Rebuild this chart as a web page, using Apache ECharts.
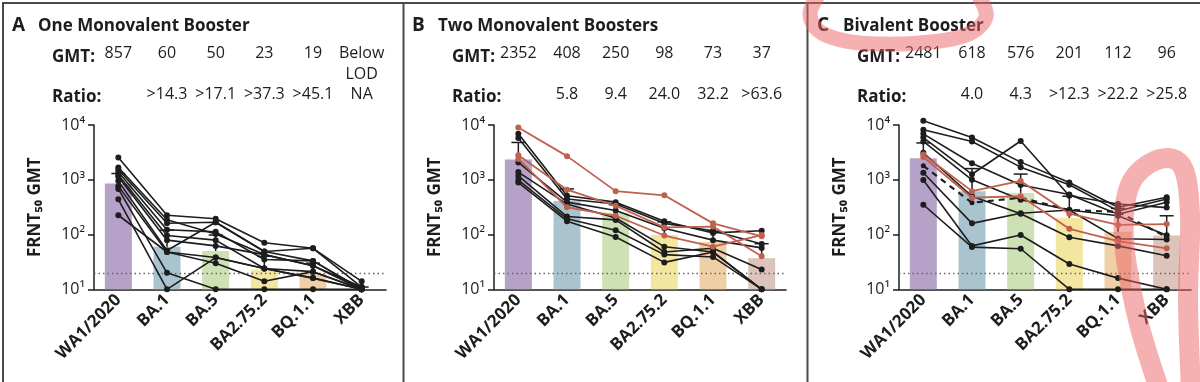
<!DOCTYPE html>
<html><head><meta charset="utf-8">
<script src="https://cdn.jsdelivr.net/npm/echarts/dist/echarts.min.js"></script>
<style>html,body{margin:0;padding:0;background:#fff;overflow:hidden}#c{width:1200px;height:382px}</style>
</head><body><div id="c"></div><script>
// ---------- data ----------
const categories = ['WA1/2020', 'BA.1', 'BA.5', 'BA2.75.2', 'BQ.1.1', 'XBB'];
const yTickLabels = {1: '10\u00b9', 2: '10\u00b2', 3: '10\u00b3', 4: '10\u2074'};
const lod = 20;

const gmtA = [857, 60, 50, 23, 19, 10];
const gmtTextA = ['857', '60', '50', '23', '19', 'Below\nLOD'];
const ratioA = ['', '>14.3', '>17.1', '>37.3', '>45.1', 'NA'];
const upperA = [1300, 120, 98, 40, 30, 11];
const blackA = [
  [2540, 225, 194, 71, 56, 14],
  [1670, 186, 102, 43, 27, 10],
  [1545, 161, 168, 49, 56, 11],
  [1380, 122, 112, 35, 33, 10],
  [1220, 96, 79, 24, 21, 10],
  [1130, 79, 62, 43, 27, 11],
  [945, 51, 168, 49, 33, 10],
  [765, 48, 38, 24, 16, 10],
  [680, 20, 10, 10, 10, 10],
  [440, 10, 38, 24, 16, 10],
  [225, 48, 30, 14, 21, 10]
];

const gmtB = [2352, 408, 250, 98, 73, 37];
const gmtTextB = ['2352', '408', '250', '98', '73', '37'];
const ratioB = ['', '5.8', '9.4', '24.0', '32.2', '>63.6'];
const upperB = [4800, 680, 350, 170, 115, 68];
const blackB = [
  [6900, 510, 390, 175, 107, 117],
  [5800, 445, 360, 160, 117, 67],
  [2070, 390, 275, 130, 79, 57],
  [1380, 360, 200, 60, 48, 10],
  [1180, 213, 185, 48, 56, 23],
  [990, 194, 120, 43, 39, 10],
  [890, 175, 90, 31, 48, 10]
];
const redB = [
  [9000, 2700, 620, 520, 160, 93],
  [2800, 660, 335, 135, 140, 40],
  [2400, 315, 220, 96, 60, 98]
];

const gmtC = [2481, 618, 576, 201, 112, 96];
const gmtTextC = ['2481', '618', '576', '201', '112', '96'];
const ratioC = ['', '4.0', '4.3', '>12.3', '>22.2', '>25.8'];
const upperC = [4700, 1600, 1270, 500, 300, 220];
const blackC = [
  [12000, 5900, 2100, 890, 315, 480],
  [8200, 5000, 1700, 810, 270, 445],
  [6900, 2000, 800, 540, 235, 390],
  [5900, 1260, 5100, 510, 360, 310],
  [5000, 1000, 430, 280, 220, 97],
  [3100, 500, 240, 89, 62, 41],
  [1340, 160, 245, 280, 84, 81],
  [990, 62, 98, 29, 16, 10],
  [350, 59, 55, 10, 10, 10]
];
const dashedC = [[1800, 380, 470, 280, 260, 90]];
const redC = [
  [2900, 620, 950, 240, 150, 155],
  [2600, 470, 500, 127, 76, 56]
];

const panelLetters = ['A', 'B', 'C'];
const panelTitles = ['One Monovalent Booster', 'Two Monovalent Boosters', 'Bivalent Booster'];

// ---------- styling ----------
const FONT = '"Open Sans", Lato, "DejaVu Sans", sans-serif';
const INK = '#1d1d1d';
const RED = '#c0604e';
const barColors = ['#b6a2c8', '#a9c4cf', '#cee1b4', '#f3e6a1', '#efcfa6', '#dcc4ba'];
const offsets = [0, 400, 805];

const panels = [
  {gmt: gmtA, gmtText: gmtTextA, ratio: ratioA, upper: upperA, black: blackA, red: [], dashed: []},
  {gmt: gmtB, gmtText: gmtTextB, ratio: ratioB, upper: upperB, black: blackB, red: redB, dashed: []},
  {gmt: gmtC, gmtText: gmtTextC, ratio: ratioC, upper: upperC, black: blackC, red: redC, dashed: dashedC}
];

const grid = [], xAxis = [], yAxis = [], series = [], graphic = [];

panels.forEach((p, k) => {
  const off = offsets[k];
  grid.push({left: off + 94, top: 125, width: 292, height: 164.3, outerBoundsMode: 'none', containLabel: false});
  xAxis.push({
    type: 'category', gridIndex: k, data: categories, boundaryGap: true,
    axisLine: {show: true, onZero: false, lineStyle: {color: INK, width: 1.5}},
    axisTick: {show: false}, splitLine: {show: false},
    axisLabel: {rotate: 45, interval: 0, margin: 8, fontSize: 17, fontWeight: 'bold', color: INK, fontFamily: FONT}
  });
  xAxis.push({
    type: 'category', gridIndex: k, data: categories, position: 'top', offset: 82,
    axisLine: {show: false}, axisTick: {show: false}, splitLine: {show: false},
    axisLabel: {interval: 0, margin: 0, verticalAlign: 'top', lineHeight: 21, fontSize: 16, color: INK, fontFamily: FONT,
      formatter: (v, i) => p.gmtText[i]}
  });
  xAxis.push({
    type: 'category', gridIndex: k, data: categories, position: 'top', offset: 41,
    axisLine: {show: false}, axisTick: {show: false}, splitLine: {show: false},
    axisLabel: {interval: 0, margin: 0, verticalAlign: 'top', lineHeight: 21, fontSize: 16, color: INK, fontFamily: FONT,
      formatter: (v, i) => p.ratio[i]}
  });
  yAxis.push({
    type: 'log', logBase: 10, min: 10, max: 10000, gridIndex: k,
    axisLine: {show: true, lineStyle: {color: INK, width: 1.5}},
    axisTick: {show: true, length: 6, lineStyle: {color: INK, width: 1.5}},
    splitLine: {show: false}, minorTick: {show: false},
    axisLabel: {margin: 9, fontSize: 16, color: INK, fontFamily: FONT,
      formatter: v => yTickLabels[Math.round(Math.log10(v))] || ''},
    name: 'FRNT\u2085\u2080 GMT', nameLocation: 'middle', nameGap: 50, nameRotate: 90,
    nameTextStyle: {fontSize: 17, fontWeight: 'bold', color: INK, fontFamily: FONT}
  });
  const xi = k * 3;
  series.push({
    type: 'bar', xAxisIndex: xi, yAxisIndex: k, barWidth: 27, z: 1, silent: true,
    data: p.gmt.map((v, i) => ({value: v, itemStyle: {color: barColors[i]}})),
    markLine: {silent: true, symbol: 'none', label: {show: false},
      lineStyle: {type: [1.5, 3], color: '#666', width: 1.3}, data: [{yAxis: lod}]}
  });
  series.push({
    type: 'custom', xAxisIndex: xi, yAxisIndex: k, z: 2, silent: true,
    data: p.gmt.map((v, i) => [i, v, p.upper[i]]),
    encode: {x: 0, y: [1, 2]},
    renderItem: (params, api) => {
      const lo = api.coord([api.value(0), api.value(1)]);
      const hi = api.coord([api.value(0), api.value(2)]);
      const st = {stroke: INK, lineWidth: 1.5};
      return {type: 'group', children: [
        {type: 'line', shape: {x1: lo[0], y1: lo[1], x2: hi[0], y2: hi[1]}, style: st},
        {type: 'line', shape: {x1: hi[0] - 7, y1: hi[1], x2: hi[0] + 7, y2: hi[1]}, style: st}
      ]};
    }
  });
  p.black.forEach(d => series.push({
    type: 'line', xAxisIndex: xi, yAxisIndex: k, data: d, z: 5, clip: false, silent: true,
    symbol: 'circle', symbolSize: 6, itemStyle: {color: INK}, lineStyle: {color: INK, width: 1.6}
  }));
  p.dashed.forEach(d => series.push({
    type: 'line', xAxisIndex: xi, yAxisIndex: k, data: d, z: 5, clip: false, silent: true,
    symbol: 'circle', symbolSize: 5, itemStyle: {color: INK}, lineStyle: {color: INK, width: 2.2, type: [6, 5]}
  }));
  p.red.forEach(d => series.push({
    type: 'line', xAxisIndex: xi, yAxisIndex: k, data: d, z: 6, clip: false, silent: true,
    symbol: 'circle', symbolSize: 6, itemStyle: {color: RED}, lineStyle: {color: RED, width: 1.8}
  }));

  graphic.push({type: 'text', x: off + 12, y: 26, style: {text: panelLetters[k], fontSize: 19, fontWeight: 'bold', fontFamily: FONT, fill: INK, verticalAlign: 'middle'}});
  graphic.push({type: 'text', x: off + 38, y: 26, style: {text: panelTitles[k], fontSize: 17, fontWeight: 'bold', fontFamily: FONT, fill: INK, verticalAlign: 'middle'}});
  graphic.push({type: 'text', x: off + 52, y: 57, style: {text: 'GMT:', fontSize: 17, fontWeight: 'bold', fontFamily: FONT, fill: INK, verticalAlign: 'middle'}});
  graphic.push({type: 'text', x: off + 52, y: 97, style: {text: 'Ratio:', fontSize: 17, fontWeight: 'bold', fontFamily: FONT, fill: INK, verticalAlign: 'middle'}});
});

// frame and separators
const frame = {stroke: '#4a4a4a', lineWidth: 2};
graphic.push({type: 'line', shape: {x1: 2, y1: 3, x2: 1200, y2: 3}, style: frame});
graphic.push({type: 'line', shape: {x1: 3, y1: 2, x2: 3, y2: 382}, style: frame});
graphic.push({type: 'line', shape: {x1: 403.5, y1: 3, x2: 403.5, y2: 382}, style: frame});
graphic.push({type: 'line', shape: {x1: 807.5, y1: 3, x2: 807.5, y2: 382}, style: frame});

// hand-drawn highlighter marks (decoration), built as filled bands
const HL = 'rgba(236,100,100,0.5)';
function band(pts, w) {
  const dense = [];
  for (let i = 0; i < pts.length - 1; i++) {
    const p0 = pts[Math.max(i - 1, 0)], p1 = pts[i], p2 = pts[i + 1], p3 = pts[Math.min(i + 2, pts.length - 1)];
    for (let s = 0; s < 10; s++) {
      const t = s / 10, t2 = t * t, t3 = t2 * t;
      const f = (a, b, c, d) => 0.5 * (2 * b + (-a + c) * t + (2 * a - 5 * b + 4 * c - d) * t2 + (-a + 3 * b - 3 * c + d) * t3);
      dense.push([f(p0[0], p1[0], p2[0], p3[0]), f(p0[1], p1[1], p2[1], p3[1])]);
    }
  }
  dense.push(pts[pts.length - 1]);
  const L = [], R = [];
  dense.forEach((p, i) => {
    const a = dense[Math.max(i - 1, 0)], b = dense[Math.min(i + 1, dense.length - 1)];
    let dx = b[0] - a[0], dy = b[1] - a[1];
    const len = Math.hypot(dx, dy) || 1;
    const nx = -dy / len * w / 2, ny = dx / len * w / 2;
    L.push([p[0] + nx, p[1] + ny]);
    R.push([p[0] - nx, p[1] - ny]);
  });
  return L.concat(R.reverse());
}
const titleLoop = [[820, -8], [810, 14], [822, 33], [860, 43], [920, 43], [966, 35], [986, 17], [978, -6]];
const xbbLoop = [[1160, 392], [1138, 320], [1124, 240], [1130, 185], [1157, 160], [1182, 166], [1190, 215], [1188, 300], [1191, 392]];
graphic.push({type: 'polygon', z: 100, silent: true, shape: {points: band(titleLoop, 15)}, style: {fill: HL}});
graphic.push({type: 'polygon', z: 100, silent: true, shape: {points: band(xbbLoop, 20)}, style: {fill: HL}});

const chart = echarts.init(document.getElementById('c'), null, {renderer: 'canvas'});
chart.setOption({
  animation: false,
  backgroundColor: '#fff',
  textStyle: {fontFamily: FONT},
  grid, xAxis, yAxis, series, graphic
});
</script></body></html>
